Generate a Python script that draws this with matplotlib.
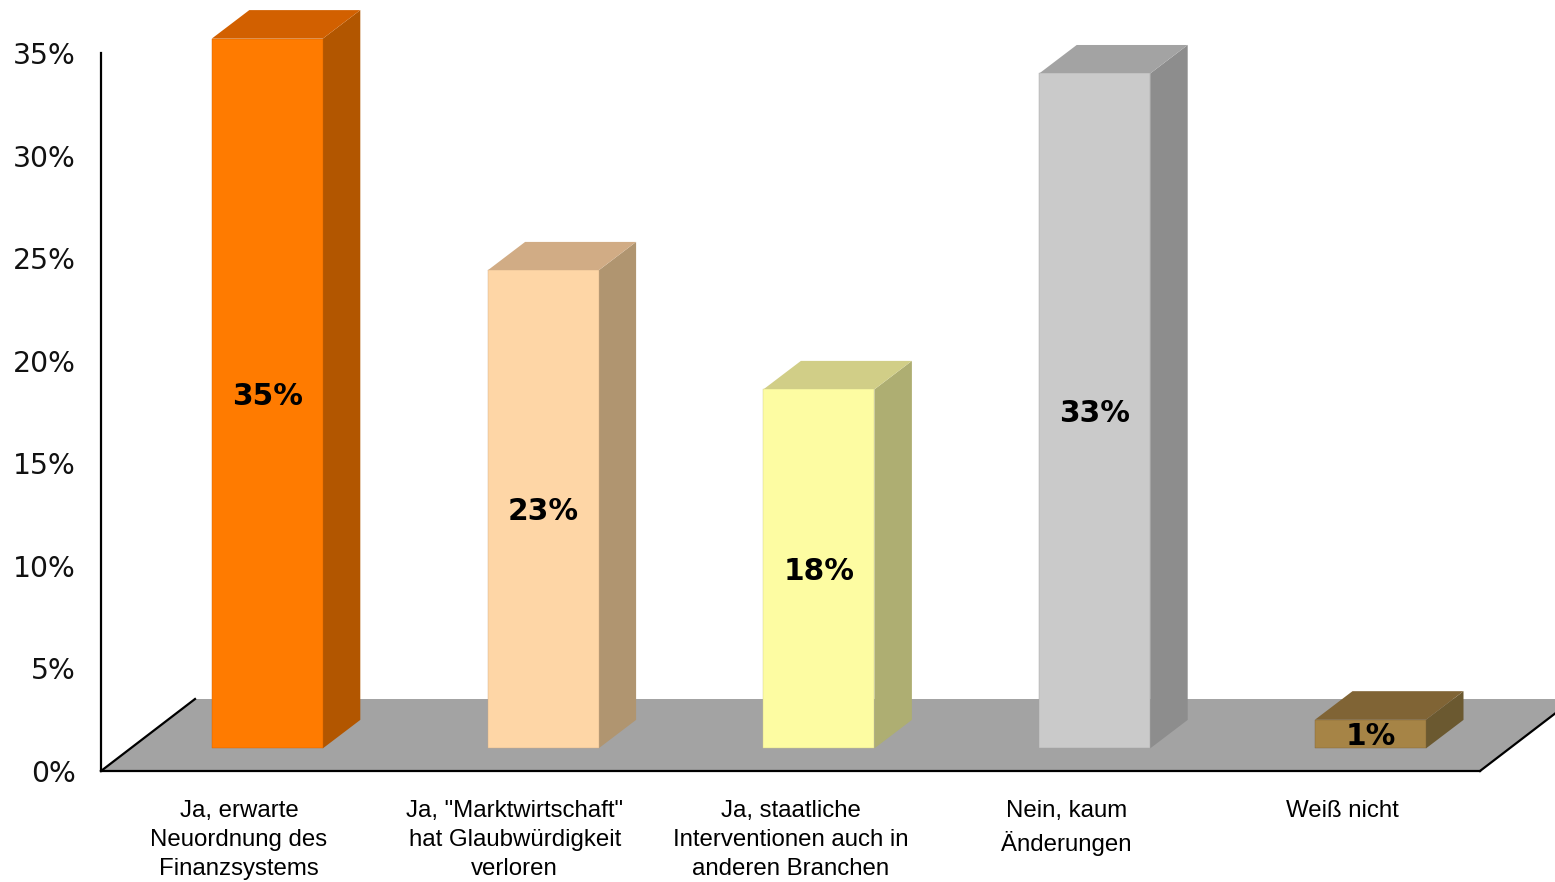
import matplotlib
matplotlib.use("Agg")
import matplotlib.pyplot as plt
from matplotlib.patches import Polygon

categories = [
    'Ja, erwarte\nNeuordnung des\nFinanzsystems',
    'Ja, "Marktwirtschaft"\nhat Glaubwürdigkeit\nverloren',
    'Ja, staatliche\nInterventionen auch in\nanderen Branchen',
    'Nein, kaum\nÄnderungen',
    'Weiß nicht',
]
values = [34.6, 23.3, 17.5, 32.9, 1.4]
labels = ['35%', '23%', '18%', '33%', '1%']
front_colors = ['#ff7b00', '#fed6a6', '#fdfca2', '#cacaca', '#a68446']
top_colors = ['#d26000', '#d1ac85', '#d1ce87', '#a3a3a3', '#806435']
side_colors = ['#b25600', '#b09570', '#aeae72', '#8d8d8d', '#6b5930']
yticks = [0, 5, 10, 15, 20, 25, 30, 35]

W, H = 1555, 882
LEFT, RIGHT, BOTTOM, TOP = 101, 1480, 771, 53

fig = plt.figure(figsize=(W / 100, H / 100), dpi=100)
ax = fig.add_axes([LEFT / W, 1 - BOTTOM / H, (RIGHT - LEFT) / W, (BOTTOM - TOP) / H])
ax.set_xlim(0, len(categories))
ax.set_ylim(0, 35)

# pixel sizes turned into data units for the fake 3d look
px_x = len(categories) / (RIGHT - LEFT)
px_y = 35 / (BOTTOM - TOP)
floor_dx, floor_dy = 94 * px_x, 72 * px_y
bar_dx, bar_dy = 37.5 * px_x, 28.5 * px_y
bar_w = 111 * px_x
bar_shift = 28.4 * px_x
base = 22.6 * px_y

n = len(categories)
ax.add_patch(Polygon([(0, 0), (n, 0), (n + floor_dx, floor_dy), (floor_dx, floor_dy)],
                     facecolor='#a3a3a3', edgecolor='none', clip_on=False, zorder=1))
ax.plot([0, floor_dx], [0, floor_dy], color='black', lw=1.6, clip_on=False, zorder=2)
ax.plot([n, n + floor_dx], [0, floor_dy], color='black', lw=1.6, clip_on=False, zorder=2)

for i, v in enumerate(values):
    x0 = i + 0.5 + bar_shift - bar_w / 2
    x1 = x0 + bar_w
    y1 = base + v
    ax.add_patch(Polygon([(x1, base), (x1 + bar_dx, base + bar_dy), (x1 + bar_dx, y1 + bar_dy), (x1, y1)],
                         facecolor=side_colors[i], edgecolor='none', clip_on=False, zorder=3))
    ax.add_patch(Polygon([(x0, y1), (x1, y1), (x1 + bar_dx, y1 + bar_dy), (x0 + bar_dx, y1 + bar_dy)],
                         facecolor=top_colors[i], edgecolor='none', clip_on=False, zorder=3))
    ax.bar(x0, v, width=bar_w, bottom=base, align='edge', color=front_colors[i],
           edgecolor=top_colors[i], linewidth=0.3, zorder=4, clip_on=False)
    ax.text(x0 + bar_w / 2 + 0.2 * px_x, base + v / 2 - 2.5 * px_y, labels[i], ha='center', va='center',
            fontsize=21.3, fontweight='bold', family='DejaVu Sans', color='black', zorder=5)

for s in ['top', 'right']:
    ax.spines[s].set_visible(False)
for s in ['left', 'bottom']:
    ax.spines[s].set_linewidth(1.6)
    ax.spines[s].set_zorder(6)

ax.set_yticks(yticks)
ax.set_yticklabels([f'{t}%' for t in yticks], fontsize=20.3, family='DejaVu Sans', color='#111111')
ax.tick_params(axis='y', length=0, pad=18)
ax.set_xticks([i + 0.5 for i in range(n)])
ax.set_xticklabels(categories, fontsize=17.3, family='Liberation Sans', linespacing=1.42, va='top')
ax.tick_params(axis='x', length=0, pad=21)

fig.savefig('out.png', dpi=100, facecolor='white')
